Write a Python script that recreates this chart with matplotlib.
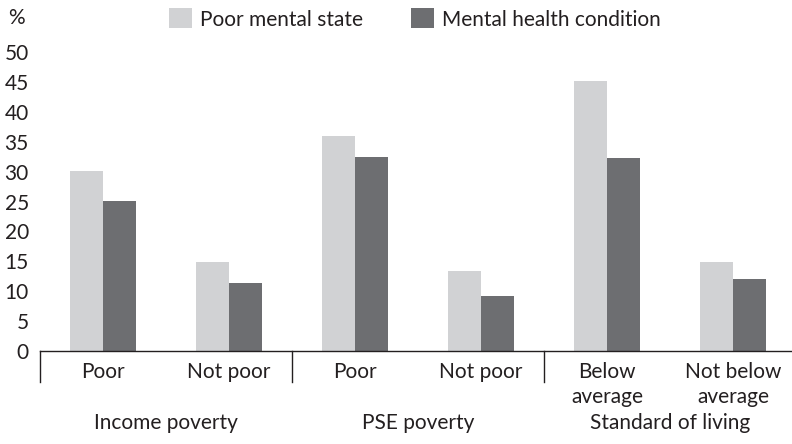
import matplotlib
matplotlib.use("Agg")
import matplotlib.pyplot as plt
import numpy as np
from matplotlib.patches import Patch

plt.rcParams['font.family'] = ['Lato', 'DejaVu Sans']

categories = ["Poor", "Not poor", "Poor", "Not poor", "Below\naverage", "Not below\naverage"]
groups = ["Income poverty", "PSE poverty", "Standard of living"]
poor_mental_state = [30.1, 14.9, 36.0, 13.4, 45.2, 14.9]
mental_health_condition = [25.1, 11.4, 32.4, 9.2, 32.3, 12.0]
series_names = ["Poor mental state", "Mental health condition"]
yticks = [0, 5, 10, 15, 20, 25, 30, 35, 40, 45, 50]

light = "#d1d2d4"
dark = "#6d6e71"
text_color = "#231f20"
fs = 15

W, H = 792, 444
fig = plt.figure(figsize=(W/100, H/100), dpi=100)
ax = fig.add_axes([40/W, (H-351)/H, (792-40)/W, (351-52)/H])

x = np.arange(len(categories))
bw = 0.258
ax.bar(x - bw/2, poor_mental_state, bw, color=light, label=series_names[0])
ax.bar(x + bw/2, mental_health_condition, bw, color=dark, label=series_names[1])

ax.set_xlim(-0.5, -0.5 + 752/126)
ax.set_ylim(0, 50)
ax.set_yticks(yticks)
ax.set_yticklabels([str(t) for t in yticks])
ax.set_xticks(x)
ax.set_xticklabels(categories, linespacing=1.3)
ax.tick_params(axis='both', length=0, labelsize=fs, colors=text_color)
ax.tick_params(axis='y', pad=8)
ax.tick_params(axis='x', pad=8)
for lab in ax.get_yticklabels():
    lab.set_horizontalalignment('right')
for s in ['top', 'right', 'left']:
    ax.spines[s].set_visible(False)
ax.spines['bottom'].set_color(text_color)
ax.spines['bottom'].set_linewidth(1.0)

trans = matplotlib.transforms.blended_transform_factory(ax.transData, ax.transAxes)
for sx in [-0.5, 1.5, 3.5]:
    ax.plot([sx, sx], [0, -31/299], transform=trans, color=text_color, lw=1.0, clip_on=False)

for i, g in enumerate(groups):
    ax.text(2*i + 0.5, -(423-351)/299, g, transform=trans, ha='center', va='center',
            fontsize=fs, color=text_color)

fig.text(16/W, 1 - 18/H, "%", ha='center', va='center', fontsize=fs, color=text_color)

handles = [Patch(facecolor=light, edgecolor='none'), Patch(facecolor=dark, edgecolor='none')]
fig.legend(handles, series_names, loc='center left', bbox_to_anchor=(150/W, 1 - 19/H),
           ncol=2, frameon=False, fontsize=fs, handlelength=1.1, handleheight=1.1,
           handletextpad=0.4, columnspacing=2.3, labelcolor=text_color)

fig.savefig("out.png", dpi=100)
